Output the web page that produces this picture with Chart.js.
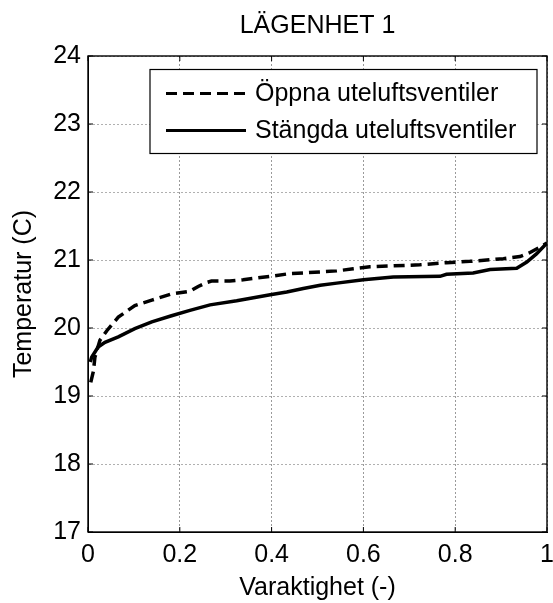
<!DOCTYPE html>
<html>
<head>
<meta charset="utf-8">
<script src="https://cdn.jsdelivr.net/npm/chart.js@4.4.1/dist/chart.umd.min.js"></script>
<style>
  html, body { margin: 0; padding: 0; background: #ffffff; }
  #wrap { width: 553px; height: 603px; }
</style>
</head>
<body>
<div id="wrap"><canvas id="chart" width="553" height="603"></canvas></div>
<script>
// Texts
const chartTitle = 'LÄGENHET 1';
const xAxisTitle = 'Varaktighet (-)';
const yAxisTitle = 'Temperatur (C)';
const seriesNames = ['Öppna uteluftsventiler', 'Stängda uteluftsventiler'];

// Tick values
const xTickValues = [0, 0.2, 0.4, 0.6, 0.8, 1];
const yTickValues = [17, 18, 19, 20, 21, 22, 23, 24];

// Duration curve, open outdoor-air vents (fraction of time, °C)
const oppnaX = [0.006, 0.012, 0.015, 0.026, 0.041, 0.066, 0.102, 0.139, 0.182, 0.222,
                0.240, 0.259, 0.269, 0.309, 0.338, 0.397, 0.440, 0.469, 0.542, 0.578,
                0.614, 0.723, 0.781, 0.832, 0.905, 0.941, 0.963, 0.985, 1.0];
const oppnaT = [19.20, 19.37, 19.57, 19.82, 19.96, 20.16, 20.33, 20.41, 20.50, 20.54,
                20.61, 20.67, 20.69, 20.69, 20.71, 20.76, 20.80, 20.81, 20.84, 20.87,
                20.90, 20.93, 20.96, 20.98, 21.02, 21.05, 21.11, 21.19, 21.25];

// Duration curve, closed outdoor-air vents
const stangdaX = [0.005, 0.008, 0.022, 0.037, 0.066, 0.102, 0.139, 0.182, 0.222, 0.266,
                  0.324, 0.397, 0.433, 0.469, 0.506, 0.542, 0.600, 0.665, 0.767, 0.781,
                  0.839, 0.876, 0.934, 0.956, 0.977, 1.0];
const stangdaT = [19.50, 19.57, 19.72, 19.79, 19.87, 19.99, 20.09, 20.18, 20.26, 20.34,
                  20.40, 20.49, 20.53, 20.58, 20.63, 20.66, 20.71, 20.75, 20.76, 20.79,
                  20.81, 20.86, 20.88, 20.97, 21.09, 21.25];

const FONT = 'Arial, "Liberation Sans", Helvetica, sans-serif';
const FONT_SIZE = 25;
const toPoints = (xs, ys) => xs.map((x, i) => ({ x: x, y: ys[i] }));

// Axes box with inward tick marks on all four sides
const frameAndTicks = {
  id: 'frameAndTicks',
  afterDatasetsDraw(chart) {
    const { ctx, chartArea: a, scales } = chart;
    const len = 5;
    ctx.save();
    ctx.strokeStyle = '#000';
    ctx.lineWidth = 1;
    ctx.beginPath();
    yTickValues.forEach(v => {
      const p = scales.y.getPixelForValue(v);
      ctx.moveTo(a.left, p); ctx.lineTo(a.left + len, p);
      ctx.moveTo(a.right, p); ctx.lineTo(a.right - len, p);
    });
    xTickValues.forEach(v => {
      const p = scales.x.getPixelForValue(v);
      ctx.moveTo(p, a.bottom); ctx.lineTo(p, a.bottom - len);
      ctx.moveTo(p, a.top); ctx.lineTo(p, a.top + len);
    });
    ctx.stroke();
    ctx.lineWidth = 1.4;
    ctx.strokeRect(a.left, a.top, a.right - a.left, a.bottom - a.top);
    ctx.restore();
  }
};

// Boxed legend in the upper right corner of the plot area
const boxedLegend = {
  id: 'boxedLegend',
  afterDraw(chart) {
    const { ctx, chartArea: a } = chart;
    const w = 387, h = 84;
    const left = a.right - 10 - w;
    const top = a.top + 13.5;
    ctx.save();
    ctx.fillStyle = '#fff';
    ctx.fillRect(left, top, w, h);
    ctx.strokeStyle = '#000';
    ctx.lineWidth = 1.2;
    ctx.strokeRect(left, top, w, h);
    ctx.font = FONT_SIZE + 'px ' + FONT;
    ctx.textBaseline = 'middle';
    ctx.textAlign = 'left';
    ctx.fillStyle = '#000';
    chart.data.datasets.forEach((ds, i) => {
      const y = top + 24 + i * 37;
      ctx.beginPath();
      ctx.lineWidth = 3;
      ctx.setLineDash(ds.borderDash || []);
      ctx.moveTo(left + 16, y);
      ctx.lineTo(left + 96, y);
      ctx.stroke();
      ctx.setLineDash([]);
      ctx.fillText(ds.label, left + 105, y + 1);
    });
    ctx.restore();
  }
};

new Chart(document.getElementById('chart'), {
  type: 'line',
  data: {
    datasets: [
      {
        label: seriesNames[0],
        data: toPoints(oppnaX, oppnaT),
        borderColor: '#000',
        borderWidth: 3.5,
        borderDash: [11, 6],
        pointRadius: 0,
        fill: false,
        tension: 0
      },
      {
        label: seriesNames[1],
        data: toPoints(stangdaX, stangdaT),
        borderColor: '#000',
        borderWidth: 3.5,
        pointRadius: 0,
        fill: false,
        tension: 0
      }
    ]
  },
  options: {
    responsive: false,
    devicePixelRatio: 1,
    animation: false,
    events: [],
    layout: { padding: { left: 0, right: 6, top: 0, bottom: 0 } },
    plugins: {
      legend: { display: false },
      tooltip: { enabled: false },
      title: {
        display: true,
        text: chartTitle,
        fullSize: false,
        color: '#000',
        font: { family: FONT, size: FONT_SIZE, weight: 'normal' },
        padding: { top: 11, bottom: 15 }
      }
    },
    scales: {
      x: {
        type: 'linear',
        min: 0,
        max: 1,
        afterBuildTicks: s => { s.ticks = xTickValues.map(v => ({ value: v })); },
        afterFit: s => { s.height = 71; s.paddingLeft = 0; s.paddingRight = 0; },
        ticks: {
          color: '#000',
          font: { family: FONT, size: FONT_SIZE },
          padding: 8,
          maxRotation: 0,
          callback: v => String(v)
        },
        grid: { color: '#9a9a9a', lineWidth: 1, drawTicks: false },
        border: { display: true, color: '#000', width: 1, dash: [2, 2] },
        title: {
          display: true,
          text: xAxisTitle,
          color: '#000',
          font: { family: FONT, size: FONT_SIZE },
          padding: { top: 0, bottom: 0 }
        }
      },
      y: {
        type: 'linear',
        min: 17,
        max: 24,
        afterBuildTicks: s => { s.ticks = yTickValues.map(v => ({ value: v })); },
        afterFit: s => { s.width = 88; s.paddingTop = 0; s.paddingBottom = 0; },
        ticks: {
          color: '#000',
          font: { family: FONT, size: FONT_SIZE },
          padding: 7,
          callback: v => String(v)
        },
        grid: { color: '#b0b0b0', lineWidth: 1, drawTicks: false },
        border: { display: true, color: '#000', width: 1, dash: [2, 2] },
        title: {
          display: true,
          text: yAxisTitle,
          color: '#000',
          font: { family: FONT, size: FONT_SIZE },
          padding: { top: 9, bottom: 0 }
        }
      }
    }
  },
  plugins: [frameAndTicks, boxedLegend]
});
</script>
</body>
</html>
